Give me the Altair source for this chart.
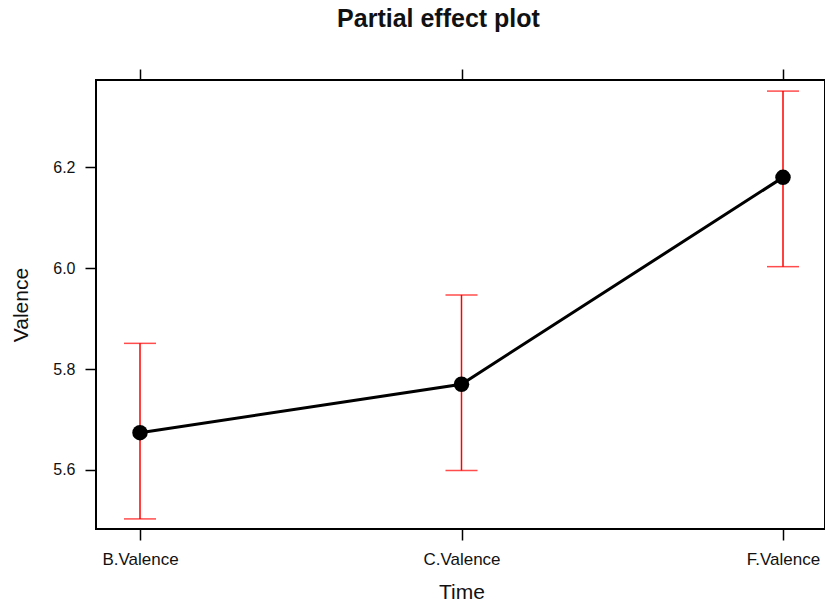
import altair as alt
import pandas as pd

times = ["B.Valence", "C.Valence", "F.Valence"]
fit = [5.674, 5.770, 6.180]
lower = [5.503, 5.599, 6.003]
upper = [5.851, 5.947, 6.351]
y_ticks = [5.6, 5.8, 6.0, 6.2]

df = pd.DataFrame({"Time": times, "fit": fit, "lower": lower, "upper": upper})

FONT = "Liberation Sans"
xscale = alt.Scale(type="point", domain=times, range=[44, 687], padding=0)
yscale = alt.Scale(domain=[5.483, 6.373], nice=False, zero=False)

ax_common = dict(domain=False, grid=False, tickColor="black", tickWidth=1.5,
                 tickSize=11, labelFont=FONT, titleFont=FONT,
                 labelColor="#111111", titleColor="#111111")

x_bottom = alt.X("Time:N", scale=xscale, sort=times,
                 axis=alt.Axis(orient="bottom", labelAngle=0, labelFontSize=17,
                               labelPadding=11, title="Time", titleFontSize=21,
                               titleFontWeight="normal", titlePadding=14, **ax_common))
x_top = alt.X("Time:N", scale=xscale, sort=times,
              axis=alt.Axis(orient="top", labels=False, title=None,
                            minExtent=0, maxExtent=11, **ax_common))
x_none = alt.X("Time:N", scale=xscale, sort=times, axis=None)

y_left = alt.Y("lower:Q", scale=yscale,
               axis=alt.Axis(orient="left", values=y_ticks, format=".1f",
                             labelFontSize=16, labelPadding=10, title="Valence",
                             titleFontSize=21, titleFontWeight="normal",
                             titlePadding=21, **ax_common))

base = alt.Chart(df)

bars = base.mark_rule(color="#FF0000", strokeWidth=1.5).encode(
    x=x_bottom, y=y_left, y2="upper:Q")
cap_lo = base.mark_tick(color="#FF0000", size=32, thickness=1.5).encode(
    x=x_top, y=alt.Y("lower:Q", scale=yscale, axis=None))
cap_hi = base.mark_tick(color="#FF0000", size=32, thickness=1.5).encode(
    x=x_none, y=alt.Y("upper:Q", scale=yscale, axis=None))
line = base.mark_line(color="black", strokeWidth=3).encode(
    x=x_none, y=alt.Y("fit:Q", scale=yscale, axis=None))
pts = base.mark_point(filled=True, color="black", size=240, opacity=1).encode(
    x=x_none, y=alt.Y("fit:Q", scale=yscale, axis=None))

chart = alt.layer(bars, cap_lo, cap_hi, line, pts).resolve_axis(
    x="independent", y="independent"
).properties(
    width=729, height=449,
    autosize=alt.AutoSizeParams(type="none"),
    padding={"left": 96, "top": 80, "right": 0, "bottom": 77},
    title=alt.TitleParams("Partial effect plot", font=FONT, fontSize=25,
                          fontWeight="bold", color="#111111", dx=-22,
                          offset=16, baseline="alphabetic", anchor="middle"),
).configure_view(stroke="black", strokeWidth=2)

chart.save("out.html", embed_options={"renderer": "svg", "actions": False})
